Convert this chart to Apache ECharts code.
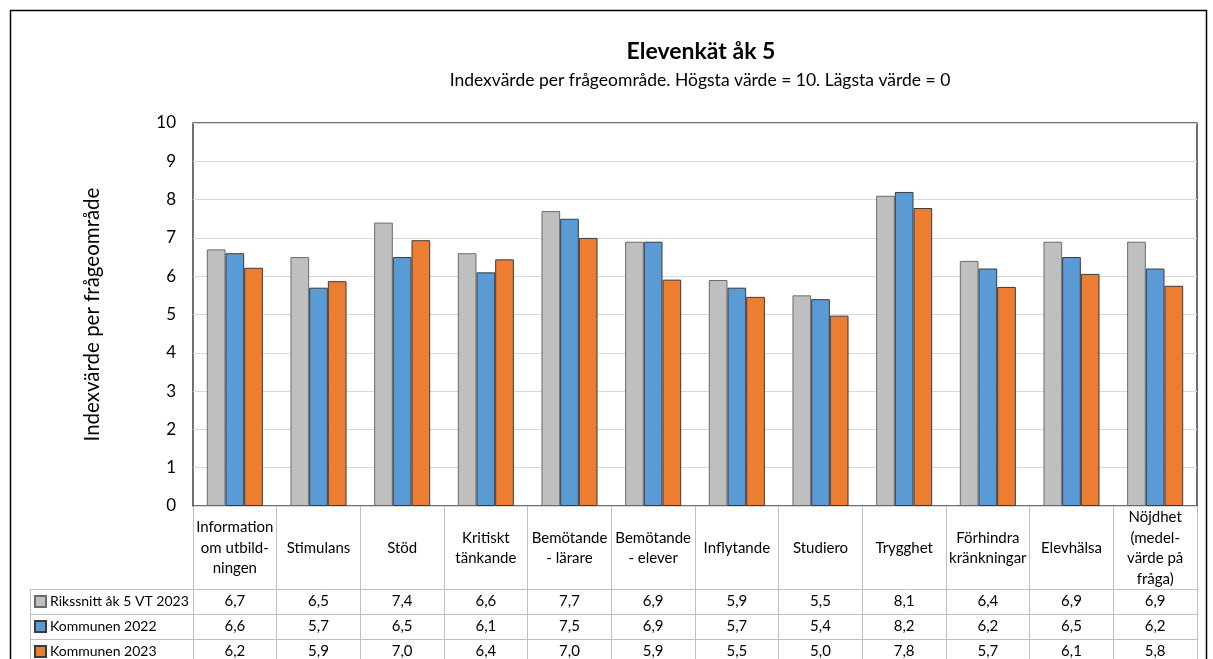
<!DOCTYPE html>
<html>
<head>
<meta charset="utf-8">
<script src="https://cdn.jsdelivr.net/npm/echarts@6/dist/echarts.min.js"></script>
<style>
html,body{margin:0;padding:0;background:#fff;}
#chart{width:1213px;height:659px;}
</style>
</head>
<body>
<div id="chart"></div>
<script>
// ---- Data ----
const categories = [
  'Information\nom utbild-\nningen', 'Stimulans', 'Stöd', 'Kritiskt\ntänkande',
  'Bemötande\n- lärare', 'Bemötande\n- elever', 'Inflytande', 'Studiero',
  'Trygghet', 'Förhindra\nkränkningar', 'Elevhälsa', 'Nöjdhet\n(medel-\nvärde på\nfråga)'
];
const seriesNames = ['Rikssnitt åk 5 VT 2023', 'Kommunen 2022', 'Kommunen 2023'];
const rikssnitt = [6.7, 6.5, 7.4, 6.6, 7.7, 6.9, 5.9, 5.5, 8.1, 6.4, 6.9, 6.9];
const kommunen2022 = [6.6, 5.7, 6.5, 6.1, 7.5, 6.9, 5.7, 5.4, 8.2, 6.2, 6.5, 6.2];
const kommunen2023 = [6.22, 5.87, 6.94, 6.44, 7.0, 5.91, 5.46, 4.97, 7.78, 5.72, 6.06, 5.75];
// table text as printed under the chart
const tableRikssnitt = ['6,7','6,5','7,4','6,6','7,7','6,9','5,9','5,5','8,1','6,4','6,9','6,9'];
const table2022 = ['6,6','5,7','6,5','6,1','7,5','6,9','5,7','5,4','8,2','6,2','6,5','6,2'];
const table2023 = ['6,2','5,9','7,0','6,4','7,0','5,9','5,5','5,0','7,8','5,7','6,1','5,8'];
const yTicks = { min: 0, max: 10, interval: 1 };

// ---- Layout ----
const FONT = 'Lato, "Open Sans", sans-serif';
const G = { left: 193, top: 123, width: 1004, height: 383 };
const gBottom = G.top + G.height;      // 506
const gRight = G.left + G.width;       // 1197
const rowLines = [589.5, 614.5, 639.5];
const rowCenters = [601.5, 626.5, 651.5];
const colors = ['#BFBFBF', '#5B9BD5', '#ED7D31'];
const borders = ['#6b6b6b', '#3a3a3a', '#3a3a3a'];
const seriesData = [rikssnitt, kommunen2022, kommunen2023];
const tables = [tableRikssnitt, table2022, table2023];

const chart = echarts.init(document.getElementById('chart'), null, { renderer: 'canvas' });

const xAxes = [{
  type: 'category',
  data: categories,
  gridIndex: 0,
  position: 'bottom',
  axisLine: { show: false },
  axisTick: { show: true, interval: 0, length: 659 - gBottom, lineStyle: { color: '#bfbfbf', width: 1 } },
  axisLabel: {
    interval: 0, margin: 42, verticalAlign: 'middle', align: 'center',
    fontFamily: FONT, fontSize: 15, color: '#000', lineHeight: 20.5
  },
  splitLine: { show: false }
}];
tables.forEach((t, i) => {
  xAxes.push({
    type: 'category',
    data: t,
    gridIndex: 0,
    position: 'bottom',
    offset: rowCenters[i] - gBottom,
    axisLine: { show: false },
    axisTick: { show: false },
    axisLabel: {
      interval: 0, margin: 0, verticalAlign: 'middle', align: 'center',
      fontFamily: FONT, fontSize: 15, color: '#000'
    },
    splitLine: { show: false }
  });
});

const legends = seriesNames.map((n, i) => ({
  data: [n],
  orient: 'horizontal',
  left: 34,
  top: rowCenters[i] - 8,
  padding: 0,
  itemWidth: 11,
  itemHeight: 11,
  icon: 'rect',
  selectedMode: false,
  textStyle: { fontFamily: FONT, fontSize: 14, color: '#000', lineHeight: 16, padding: [0, 0, 0, -1] }
}));

const graphics = [
  { type: 'rect', shape: { x: 10.5, y: 10.5, width: 1196, height: 800 }, style: { fill: 'none', stroke: '#000', lineWidth: 1.5 }, z: 10 },
  { type: 'line', shape: { x1: 30.5, y1: rowLines[0], x2: 30.5, y2: 700 }, style: { stroke: '#bfbfbf', lineWidth: 1 } }
];
rowLines.forEach(y => {
  graphics.push({ type: 'line', shape: { x1: 30.5, y1: y, x2: gRight, y2: y }, style: { stroke: '#bfbfbf', lineWidth: 1 } });
});

const option = {
  animation: false,
  backgroundColor: '#fff',
  title: [
    { text: 'Elevenkät åk 5', left: 701, top: 40, textAlign: 'center', padding: 0,
      textStyle: { fontFamily: FONT, fontSize: 23, fontWeight: 'bold', color: '#000' } },
    { text: 'Indexvärde per frågeområde. Högsta värde = 10. Lägsta värde = 0', left: 700, top: 71, textAlign: 'center', padding: 0,
      textStyle: { fontFamily: FONT, fontSize: 17.5, fontWeight: 'normal', color: '#000' } }
  ],
  legend: legends,
  grid: {
    left: G.left, top: G.top, width: G.width, height: G.height,
    containLabel: false, outerBoundsMode: 'none',
    show: true, borderColor: '#404040', borderWidth: 1.5, backgroundColor: 'transparent'
  },
  xAxis: xAxes,
  yAxis: {
    type: 'value',
    min: yTicks.min, max: yTicks.max, interval: yTicks.interval,
    name: 'Indexvärde per frågeområde',
    nameLocation: 'middle',
    nameGap: 90,
    nameTextStyle: { fontFamily: FONT, fontSize: 20.5, color: '#000' },
    axisLine: { show: false },
    axisTick: { show: false },
    axisLabel: { margin: 17, fontFamily: FONT, fontSize: 17, color: '#000' },
    splitLine: { show: true, lineStyle: { color: '#d9d9d9', width: 1 } }
  },
  series: seriesNames.map((n, i) => ({
    name: n,
    type: 'bar',
    xAxisIndex: 0,
    data: seriesData[i],
    barGap: '0%',
    barCategoryGap: '33%',
    itemStyle: { color: colors[i], borderColor: borders[i], borderWidth: 1 },
    emphasis: { disabled: true }
  })),
  graphic: graphics
};
chart.setOption(option);
</script>
</body>
</html>
